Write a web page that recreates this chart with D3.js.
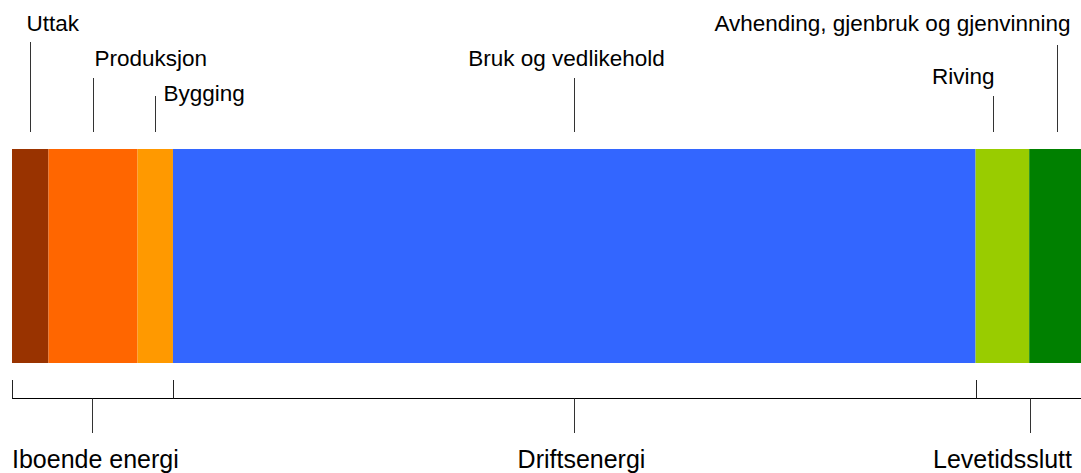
<!DOCTYPE html>
<html>
<head>
<meta charset="utf-8">
<script src="https://cdn.jsdelivr.net/npm/d3@7"></script>
<style>
  body { margin: 0; background: #fff; }
  text { font-family: "Liberation Sans", Arial, sans-serif; fill: #000; }
</style>
</head>
<body>
<div id="chart"></div>
<script>
// Life cycle stages (share of total energy, %)
var stages = ["Uttak", "Produksjon", "Bygging", "Bruk og vedlikehold", "Riving", "Avhending, gjenbruk og gjenvinning"];
var shares = [3.4, 8.3, 3.3, 74.8, 5.0, 5.2];
var colors = ["#993300", "#ff6600", "#ff9900", "#3366ff", "#99cc00", "#008000"];
// Groups of stages shown below the bar
var groups = ["Iboende energi", "Driftsenergi", "Levetidsslutt"];
var groupStages = [[0, 1, 2], [3], [4, 5]];

var W = 1081, H = 473;
var svg = d3.select("#chart").append("svg").attr("width", W).attr("height", H);

var total = d3.sum(shares);
var x = d3.scaleLinear().domain([0, total]).range([12, 1085]);
var y = d3.scaleBand().domain(["bar"]).range([149, 363]).padding(0);

// cumulative start / end for every stage
var segs = [];
var acc = 0;
shares.forEach(function (v, i) {
  segs.push({ name: stages[i], start: acc, end: acc + v, color: colors[i] });
  acc += v;
});

// bar segments
svg.selectAll(".seg")
  .data(segs)
  .enter()
  .append("rect")
  .attr("class", "seg")
  .attr("x", function (d) { return x(d.start); })
  .attr("y", y("bar"))
  .attr("width", function (d) { return x(d.end) - x(d.start); })
  .attr("height", y.bandwidth())
  .style("fill", function (d) { return d.color; });

// label layout above the bar (where leader sits in the segment, text placement)
var topLayout = [
  { at: 0.5, lineTop: 42, base: 31, anchor: "start", dx: -4 },
  { at: 0.5, lineTop: 78, base: 66, anchor: "start", dx: 1 },
  { at: 0.5, lineTop: 96, base: 101, anchor: "start", dx: 8 },
  { at: 0.5, lineTop: 78, base: 66, anchor: "middle", dx: -8 },
  { at: 0.33, lineTop: 96, base: 84, anchor: "end", dx: 1 },
  { at: 0.5, lineTop: 45, base: 31, anchor: "end", dx: 13 }
];

var snap = function (v) { return Math.round(v) + 0.5; };

segs.forEach(function (d, i) {
  var L = topLayout[i];
  var lx = snap(x(d.start + (d.end - d.start) * L.at));
  svg.append("line")
    .attr("x1", lx).attr("x2", lx)
    .attr("y1", L.lineTop).attr("y2", 132)
    .attr("stroke", "#333").attr("stroke-width", 1);
  svg.append("text")
    .attr("x", lx + L.dx)
    .attr("y", L.base)
    .attr("text-anchor", L.anchor)
    .attr("font-size", "22.5px")
    .text(d.name);
});

// bracket below the bar
var bracketY = 398.5;
svg.append("line")
  .attr("x1", x.range()[0]).attr("x2", x.range()[1])
  .attr("y1", bracketY).attr("y2", bracketY)
  .attr("stroke", "#000").attr("stroke-width", 1);

var groupSpans = groupStages.map(function (idx, gi) {
  return {
    name: groups[gi],
    start: segs[idx[0]].start,
    end: segs[idx[idx.length - 1]].end
  };
});

// boundary ticks at the start of every group
groupSpans.forEach(function (g) {
  var ex = snap(x(g.start));
  svg.append("line")
    .attr("x1", ex).attr("x2", ex)
    .attr("y1", 380).attr("y2", bracketY)
    .attr("stroke", "#222").attr("stroke-width", 1);
});

var bottomLayout = [
  { anchor: "start", pos: "left" },
  { anchor: "middle", pos: "mid", dx: 7 },
  { anchor: "end", pos: "right" }
];

groupSpans.forEach(function (g, i) {
  var mx = snap(x((g.start + g.end) / 2));
  svg.append("line")
    .attr("x1", mx).attr("x2", mx)
    .attr("y1", bracketY).attr("y2", 433)
    .attr("stroke", "#333").attr("stroke-width", 1);
  var L = bottomLayout[i];
  var tx = L.pos === "left" ? x(g.start) : L.pos === "right" ? W - 9 : mx + L.dx;
  svg.append("text")
    .attr("x", tx)
    .attr("y", 468)
    .attr("text-anchor", L.anchor)
    .attr("font-size", "25px")
    .text(g.name);
});
</script>
</body>
</html>
